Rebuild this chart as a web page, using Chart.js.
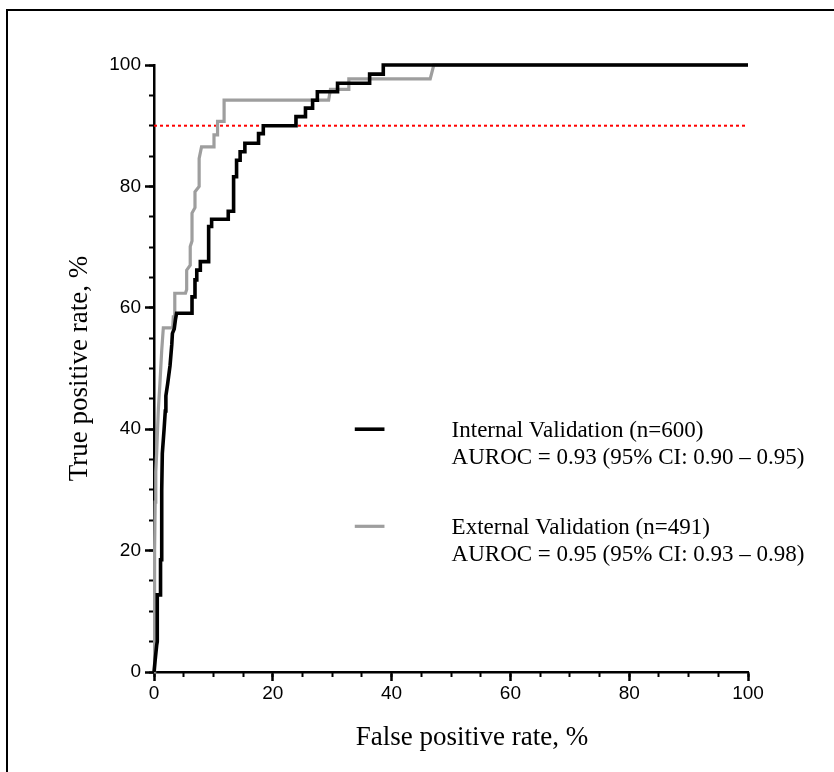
<!DOCTYPE html>
<html>
<head>
<meta charset="utf-8">
<script src="https://cdn.jsdelivr.net/npm/chart.js@4/dist/chart.umd.min.js"></script>
<style>
  html, body { margin: 0; padding: 0; background: #fff; }
  #wrap { position: relative; width: 834px; height: 772px; overflow: hidden; }
  #frame { position: absolute; left: 6px; top: 9px; width: 900px; height: 900px;
           border-top: 2px solid #000; border-left: 2px solid #000; }
  canvas { position: absolute; left: 0; top: 0; }
</style>
</head>
<body>
<div id="wrap">
  <div id="frame"></div>
  <canvas id="roc" width="834" height="772"></canvas>
</div>
<script>
// ROC curve vertices, false positive rate (%) vs true positive rate (%)
const fprInternal = [0, 0.2, 0.45, 0.55, 0.55, 1.1, 1.1, 1.3, 1.3, 1.4, 1.7, 1.9, 2.0, 2.3, 2.7, 3.0, 3.1, 3.4, 3.6, 3.8,
  6.4, 6.4, 6.9, 6.9, 7.2, 7.2, 7.8, 7.8, 9.2, 9.2, 9.7, 9.7, 12.5, 12.5, 13.4, 13.4, 13.9, 13.9, 14.5, 14.5,
  15.3, 15.3, 17.6, 17.6, 18.4, 18.4, 23.9, 23.9, 25.5, 25.5, 26.7, 26.7, 27.5, 27.5, 30.9, 30.9, 36.3, 36.3,
  38.6, 38.6, 100];
const tprInternal = [0, 2, 4.4, 5, 12.7, 12.7, 18.5, 18.5, 30, 36, 40, 43, 45.5, 47.5, 50.5, 54, 55.8, 56.5, 58, 59.1,
  59.1, 61.8, 61.8, 64.6, 64.6, 66.2, 66.2, 67.6, 67.6, 73.4, 73.4, 74.6, 74.6, 75.9, 75.9, 81.6, 81.6, 84.3, 84.3, 85.7,
  85.7, 87.1, 87.1, 88.7, 88.7, 90, 90, 91.5, 91.5, 92.9, 92.9, 94.2, 94.2, 95.6, 95.6, 97.0, 97.0, 98.5,
  98.5, 100, 100];

const fprExternal = [0, 0.1, 0.1, 0.2, 0.3, 0.45, 0.6, 0.73, 1.0, 1.3, 1.57, 3.15, 3.25, 3.5, 3.5, 5.3, 5.5, 5.5,
  6.1, 6.1, 6.4, 6.4, 6.9, 6.9, 7.6, 7.6, 8.0, 10.0, 10.1, 10.7, 10.7, 11.8, 11.8, 29.4, 29.7, 32.8, 32.8,
  46.5, 47.1, 100];
const tprExternal = [0, 5, 20, 28, 33, 36.1, 40, 43.2, 47.6, 53, 56.7, 56.7, 58.5, 58.5, 62.4, 62.4, 63, 66.2,
  67, 70.1, 71, 75.6, 76.5, 79.1, 80, 84.6, 86.5, 86.5, 88.5, 88.5, 90.7, 90.7, 94.2, 94.2, 96.0, 96.0, 97.7,
  97.7, 100, 100];

// Horizontal reference at 90% sensitivity
const cutoffFpr = [0, 100];
const cutoffTpr = [90, 90];

const internalLabel = ['Internal Validation (n=600)', 'AUROC = 0.93 (95% CI: 0.90 \u2013 0.95)'];
const externalLabel = ['External Validation (n=491)', 'AUROC = 0.95 (95% CI: 0.93 \u2013 0.98)'];

const xTitle = 'False positive rate, %';
const yTitle = 'True positive rate, %';

const toPoints = (xs, ys) => xs.map((x, i) => ({ x, y: ys[i] }));

const serif = '"Liberation Serif", "Times New Roman", serif';
const sans = '"Liberation Sans", Arial, sans-serif';

// Axis titles and the two-line legend entries
const rocText = {
  id: 'rocText',
  afterDraw(chart) {
    const { ctx, chartArea, scales } = chart;
    ctx.save();
    ctx.fillStyle = '#000';
    ctx.font = '27px ' + serif;
    ctx.textAlign = 'center';
    ctx.textBaseline = 'middle';
    ctx.fillText(xTitle, 472, 738);
    ctx.save();
    ctx.translate(80, (chartArea.top + chartArea.bottom) / 2);
    ctx.rotate(-Math.PI / 2);
    ctx.fillText(yTitle, 0, 0);
    ctx.restore();

    const sx = scales.x, sy = scales.y;
    const entries = [
      { ds: chart.data.datasets[0], lines: internalLabel, at: 40 },
      { ds: chart.data.datasets[1], lines: externalLabel, at: 24 }
    ];
    ctx.font = '23px ' + serif;
    ctx.textAlign = 'left';
    entries.forEach(e => {
      const y = sy.getPixelForValue(e.at);
      ctx.beginPath();
      ctx.strokeStyle = e.ds.borderColor;
      ctx.lineWidth = e.ds.borderWidth;
      ctx.moveTo(sx.getPixelForValue(33.8), y);
      ctx.lineTo(sx.getPixelForValue(38.8), y);
      ctx.stroke();
      e.lines.forEach((t, i) => ctx.fillText(t, sx.getPixelForValue(50.1), y + 2 + i * 26.5));
    });
    ctx.restore();
  }
};

const majorAxis = (pos, afterFit, pad) => ({
  type: 'linear', position: pos, min: 0, max: 100, weight: 1,
  ticks: { stepSize: 20, color: '#000', font: { family: sans, size: 19 }, padding: pad },
  grid: { drawOnChartArea: false, tickLength: 9, tickWidth: 2.5, tickColor: '#000' },
  border: { color: '#000', width: 2.5 },
  afterFit
});
const minorAxis = (pos, afterFit) => ({
  type: 'linear', position: pos, min: 0, max: 100, weight: 0,
  ticks: { stepSize: 5, display: false },
  grid: { drawOnChartArea: false, tickLength: 5, tickWidth: 2, tickColor: '#000' },
  border: { display: false },
  afterFit
});

new Chart(document.getElementById('roc'), {
  type: 'scatter',
  data: {
    datasets: [
      { label: internalLabel[0], data: toPoints(fprInternal, tprInternal), showLine: true,
        borderColor: '#000', borderWidth: 3.6, pointRadius: 0, tension: 0, clip: false },
      { label: externalLabel[0], data: toPoints(fprExternal, tprExternal), showLine: true,
        borderColor: '#9e9e9e', borderWidth: 3.2, pointRadius: 0, tension: 0, clip: false },
      { label: 'cutoff', data: toPoints(cutoffFpr, cutoffTpr), showLine: true,
        borderColor: '#ff0000', borderWidth: 2, borderDash: [3, 3], pointRadius: 0, clip: false }
    ]
  },
  options: {
    responsive: false,
    animation: false,
    devicePixelRatio: 1,
    layout: { padding: { top: 65, right: 86, bottom: 0, left: 0 } },
    plugins: { legend: { display: false }, tooltip: { enabled: false } },
    scales: {
      x: majorAxis('bottom', s => { s.height = 100; }, 1),
      xMinor: minorAxis('bottom', s => { s.height = 0; }),
      y: majorAxis('left', s => { s.width = 154; }, 4),
      yMinor: minorAxis('left', s => { s.width = 0; })
    }
  },
  plugins: [rocText]
});
</script>
</body>
</html>
